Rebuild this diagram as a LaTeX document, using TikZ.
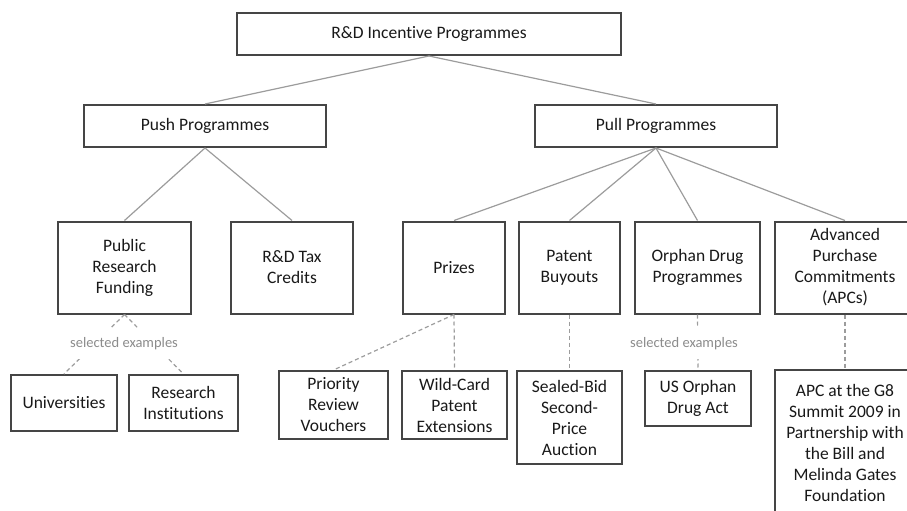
\documentclass[tikz,border=0pt]{standalone}
\usepackage{fontspec}
\setmainfont{Carlito}[Ligatures=NoCommon]
\usepackage{xcolor}
\usepackage{tikz}
\usetikzlibrary{calc,positioning}
\definecolor{boxgray}{HTML}{454545}
\definecolor{linegray}{HTML}{9C9C9C}
\tikzset{
  pbox/.style={draw=boxgray, line width=2pt, fill=white, align=center, text=black!90, inner sep=1pt, font=\fontsize{17.5}{21}\selectfont},
  link/.style={draw=linegray, line width=1.2pt},
  dlink/.style={link, dash pattern=on 4pt off 3pt},
  selnote/.style={fill=white, text=black!45, inner sep=1pt, minimum height=31pt, font=\fontsize{14.5}{17}\selectfont}
}

\begin{document}
\begin{tikzpicture}[x=1pt,y=-1pt]
\useasboundingbox (0,0) rectangle (907,511);
\node[pbox, minimum width=384pt, minimum height=42pt] (rdip) at (429,34) {R\&D Incentive Programmes};
\node[pbox, minimum width=242pt, minimum height=42pt] (push) at (205,126) {Push Programmes};
\node[pbox, minimum width=242pt, minimum height=42pt] (pull) at (656,126) {Pull Programmes};

\node[pbox, minimum width=133pt, minimum height=92pt] (prf) at (124.5,267.5) {Public\\Research\\Funding};
\node[pbox, minimum width=122pt, minimum height=92pt] (taxcr) at (292,267.5) {R\&D Tax\\Credits};
\node[pbox, minimum width=102pt, minimum height=92pt] (prizes) at (454,267.5) {Prizes};
\node[pbox, minimum width=101pt, minimum height=92pt] (buyout) at (569.5,267.5) {Patent\\Buyouts};
\node[pbox, minimum width=125pt, minimum height=92pt] (orphan) at (697.5,267.5) {Orphan Drug\\Programmes};
\node[pbox, minimum width=140pt, minimum height=92pt] (apc) at (845,267.5) {Advanced\\Purchase\\Commitments\\(APCs)};

\node[pbox, minimum width=106pt, minimum height=56pt] (univ) at (64,403) {Universities};
\node[pbox, minimum width=109pt, minimum height=56pt] (resinst) at (183.5,403) {Research\\Institutions};
\node[pbox, minimum width=109pt, minimum height=68pt] (prv) at (333.5,405) {Priority\\Review\\Vouchers};
\node[pbox, minimum width=105pt, minimum height=68pt] (wildcard) at (454.5,405) {Wild-Card\\Patent\\Extensions};
\node[pbox, minimum width=105pt, minimum height=93pt] (sealed) at (569.5,417.5) {Sealed-Bid\\Second-\\Price\\Auction};
\node[pbox, minimum width=106pt, minimum height=55pt] (usoda) at (698,398.5) {US Orphan\\Drug Act};
\node[pbox, minimum width=140pt, minimum height=146pt] (apcgeight) at (845,443) {APC at the G8\\Summit 2009 in\\Partnership with\\the Bill and\\Melinda Gates\\Foundation};

\draw[link] (rdip.south) -- (push.north);
\draw[link] (rdip.south) -- (pull.north);
\draw[link] (push.south) -- (prf.north);
\draw[link] (push.south) -- (taxcr.north);
\foreach \kid in {prizes,buyout,orphan,apc}
  \draw[link] (pull.south) -- (\kid.north);

\draw[dlink] (prf.south) -- (univ.north);
\draw[dlink] (prf.south) -- (resinst.north);
\draw[dlink] (prizes.south) -- (prv.north);
\draw[dlink] (prizes.south) -- (wildcard.north);
\draw[dlink] (buyout.south) -- (sealed.north);
\draw[dlink] (orphan.south) -- (usoda.north);
\draw[dlink] (apc.south) -- (apcgeight.north);

\node[selnote] (selprf) at (124,343.5) {selected examples};
\node[selnote] (selorphan) at (684,343.5) {selected examples};
\end{tikzpicture}
\end{document}
